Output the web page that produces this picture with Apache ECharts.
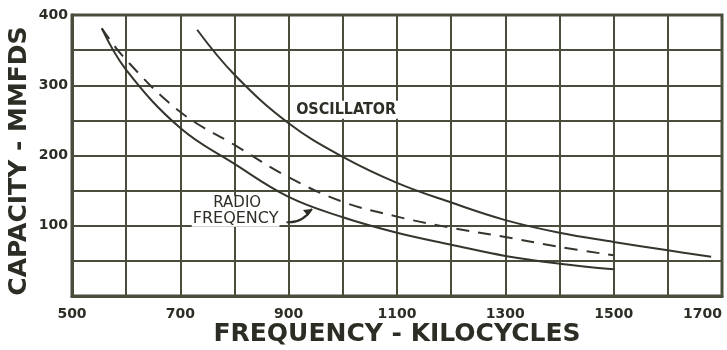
<!DOCTYPE html>
<html><head><meta charset="utf-8">
<script src="https://cdn.jsdelivr.net/npm/echarts@6/dist/echarts.min.js"></script>
<style>html,body{margin:0;padding:0;background:#fff}#c{width:727px;height:350px}</style>
</head><body><div id="c"></div>
<script>
// Data (frequency in kc, capacity in mmfd)
const radioFreq = [[555,381],[600,322],[700,239],[800,188],[900,141],[1000,112],[1100,90],[1200,73],[1300,57],[1400,46],[1500,38]];
const dashedCurve = [[555,381],[600,336],[700,262],[800,215],[900,169],[1000,134],[1100,113],[1200,97],[1300,84],[1400,70],[1500,58]];
const oscillator = [[731,379],[800,315],[900,246],[1000,198],[1100,161],[1200,133],[1300,108],[1400,90],[1500,77],[1600,65],[1680,56]];
const xTickLabels = [500,700,900,1100,1300,1500,1700];
const yTickLabels = [100,200,300,400];
const xTitle = 'FREQUENCY - KILOCYCLES';
const yTitle = 'CAPACITY - MMFDS';
const oscLabel = 'OSCILLATOR';
const rfLabel1 = 'RADIO';
const rfLabel2 = 'FREQENCY';

const ink = '#2c2e25';
const gridC = '#4a4d3c';
const chart = echarts.init(document.getElementById('c'));
const lbl = {fontFamily:'DejaVu Sans', fontWeight:'bold', fontSize:14, color:ink};
chart.setOption({
  animation:false,
  grid:{left:72,right:5,top:15,bottom:54,outerBoundsMode:'none',containLabel:false,show:true,borderColor:gridC,borderWidth:3,backgroundColor:'#fff'},
  xAxis:{type:'value',min:500,max:1700,interval:100,
    axisLine:{show:true,lineStyle:{color:gridC,width:3}},axisTick:{show:false},
    splitLine:{show:true,lineStyle:{color:gridC,width:2}},
    axisLabel:Object.assign({},lbl,{margin:11,alignMaxLabel:'right',
      formatter:v=>xTickLabels.includes(v)?String(v):''})},
  yAxis:{type:'value',min:0,max:400,interval:50,
    axisLine:{show:true,lineStyle:{color:gridC,width:3}},axisTick:{show:false},
    splitLine:{show:true,lineStyle:{color:gridC,width:2}},
    axisLabel:Object.assign({},lbl,{margin:4,verticalAlign:'middle',
      formatter:v=>yTickLabels.includes(v)?String(v):''})},
  series:[
    {type:'line',data:radioFreq,smooth:0.4,showSymbol:false,lineStyle:{color:'#34362d',width:2}},
    {type:'line',data:dashedCurve,smooth:0.4,showSymbol:false,lineStyle:{color:'#34362d',width:2,type:[13,9]}},
    {type:'line',data:oscillator,smooth:0.4,showSymbol:false,lineStyle:{color:'#34362d',width:2}}
  ]
});
const P = (x,y)=>chart.convertToPixel({gridIndex:0},[x,y]);
const o = P(1006,265), r1 = P(805,132), r2 = P(802,110);
const a0 = P(896,105), a1 = P(925,103), a2 = P(943,124);
const tf = {fontFamily:'DejaVu Sans Condensed',fontWeight:'bold',fill:ink,align:'center',verticalAlign:'middle'};
const tt = {fontFamily:'DejaVu Sans',fontWeight:'bold',fill:ink,align:'center',verticalAlign:'middle',fontSize:25};
chart.setOption({graphic:[
  {type:'text',x:397,y:334,style:Object.assign({},tt,{text:xTitle})},
  {type:'text',x:19,y:161,rotation:Math.PI/2,style:Object.assign({},tt,{text:yTitle})},
  {type:'text',x:o[0],y:o[1],style:Object.assign({},tf,{text:oscLabel,fontSize:16,backgroundColor:'#fff',padding:[1,2]}),z:100},
  {type:'text',x:r1[0],y:r1[1],style:Object.assign({},tf,{text:rfLabel1,fontFamily:'DejaVu Sans',fontSize:15,fontWeight:'normal',backgroundColor:'#fff',padding:[0,1]}),z:100},
  {type:'text',x:r2[0],y:r2[1],style:Object.assign({},tf,{text:rfLabel2,fontFamily:'DejaVu Sans',fontSize:16,fontWeight:'normal',backgroundColor:'#fff',padding:[0,1]}),z:100},
  {type:'bezierCurve',shape:{x1:a0[0],y1:a0[1],x2:a2[0],y2:a2[1],cpx1:a1[0],cpy1:a1[1]},style:{stroke:ink,lineWidth:2,fill:null},z:100},
  {type:'polygon',shape:{points:[[a2[0],a2[1]],[a2[0]-9,a2[1]+1],[a2[0]-4,a2[1]+7]]},style:{fill:ink},z:100}
]});
</script></body></html>
